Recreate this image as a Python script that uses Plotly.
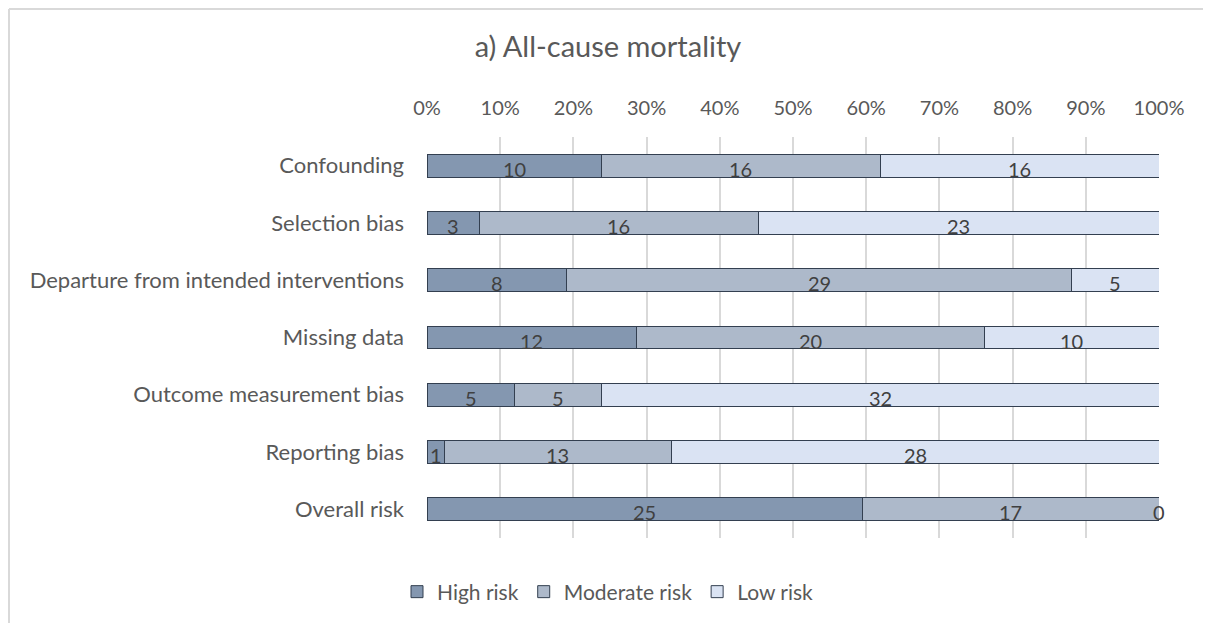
import plotly.graph_objects as go

categories = ["Confounding", "Selection bias", "Departure from intended interventions",
              "Missing data", "Outcome measurement bias", "Reporting bias", "Overall risk"]
high = [10, 3, 8, 12, 5, 1, 25]
moderate = [16, 16, 29, 20, 5, 13, 17]
low = [16, 23, 5, 10, 32, 28, 0]
series_names = ["High risk", "Moderate risk", "Low risk"]
colors = ["#8497B0", "#ADB9CA", "#DAE3F3"]
tick_vals = [0, 0.1, 0.2, 0.3, 0.4, 0.5, 0.6, 0.7, 0.8, 0.9, 1.0]
tick_text = ["0%", "10%", "20%", "30%", "40%", "50%", "60%", "70%", "80%", "90%", "100%"]

FONT = "Lato, Calibri, Carlito, sans-serif"

# figure is placed inside the page's default 8px body margin
W, H = 1203, 615
L, T, PW, PH = 419, 129, 732, 401
R = W - L - PW
B = H - T - PH

fig = go.Figure()
series = [high, moderate, low]
totals = [h + m + l for h, m, l in zip(high, moderate, low)]
annotations = []
cum = [0.0] * len(categories)
for name, vals, col in zip(series_names, series, colors):
    frac = [v / t for v, t in zip(vals, totals)]
    fig.add_trace(go.Bar(
        y=categories, x=frac, name=name, orientation="h",
        marker=dict(color=col, line=dict(color="#333F50", width=1)),
        width=0.4, hoverinfo="skip",
    ))
    for i, (v, f) in enumerate(zip(vals, frac)):
        annotations.append(dict(
            x=cum[i] + f / 2, y=categories[i], xref="x", yref="y",
            text=str(v), showarrow=False, yshift=-3,
            font=dict(family=FONT, size=20, color="#404040"),
        ))
        cum[i] += f

def px_x(fx):
    return (fx - L) / PW

def px_y(fy):
    return (T + PH - fy) / PH

fig.update_layout(
    barmode="stack",
    width=W, height=H,
    margin=dict(l=L, r=R, t=T, b=B),
    paper_bgcolor="white", plot_bgcolor="white",
    title=dict(text="a) All-cause mortality", x=px_x(600), xref="paper", xanchor="center",
               y=1 - 39 / H, yanchor="middle",
               font=dict(family=FONT, size=29, color="#595959")),
    font=dict(family=FONT, color="#595959"),
    xaxis=dict(side="top", range=[0, 1.0], tickvals=tick_vals, ticktext=tick_text,
               showgrid=True, gridcolor="#D9D9D9", gridwidth=1.5, zeroline=False,
               showline=False, ticks="", tickfont=dict(size=20, color="#595959"),
               ticklabelstandoff=17, fixedrange=True),
    yaxis=dict(showgrid=False, zeroline=False, showline=False,
               ticks="", tickfont=dict(size=22, color="#595959"), ticklabelstandoff=22,
               range=[6.5, -0.5]),
    legend=dict(orientation="h", x=600 / W, xref="container", xanchor="center",
                y=1 - 584 / H, yref="container", yanchor="middle",
                font=dict(family=FONT, size=21, color="#595959"), traceorder="normal",
                itemwidth=30, itemclick=False),
    annotations=annotations,
    shapes=[
        dict(type="line", xref="paper", yref="paper",
             x0=px_x(1), x1=px_x(1), y0=px_y(1), y1=px_y(H),
             line=dict(color="#D9D9D9", width=2)),
        dict(type="line", xref="paper", yref="paper",
             x0=px_x(1), x1=px_x(W), y0=px_y(1), y1=px_y(1),
             line=dict(color="#D9D9D9", width=2)),
    ],
)

fig.write_html("out.html")
